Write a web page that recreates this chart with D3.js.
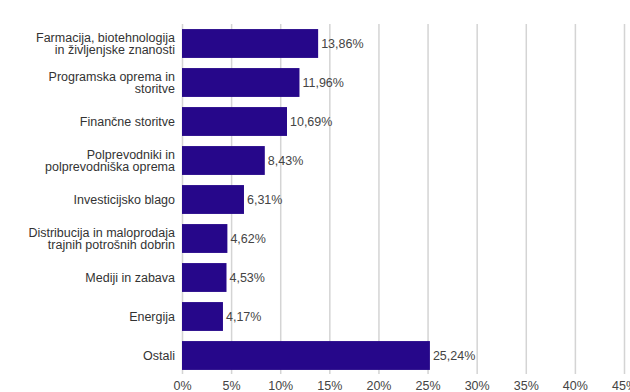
<!DOCTYPE html>
<html><head><meta charset="utf-8">
<script src="https://cdn.jsdelivr.net/npm/d3@7"></script>
<style>body{margin:0;background:#fff}svg{display:block;font-family:Arial,"Liberation Sans",sans-serif}</style>
</head><body>
<script>
const categories = [
  ["Farmacija, biotehnologija","in življenjske znanosti"],
  ["Programska oprema in","storitve"],
  ["Finančne storitve"],
  ["Polprevodniki in","polprevodniška oprema"],
  ["Investicijsko blago"],
  ["Distribucija in maloprodaja","trajnih potrošnih dobrin"],
  ["Mediji in zabava"],
  ["Energija"],
  ["Ostali"]
];
const values = [13.86, 11.96, 10.69, 8.43, 6.31, 4.62, 4.53, 4.17, 25.24];
const valueLabels = ["13,86%","11,96%","10,69%","8,43%","6,31%","4,62%","4,53%","4,17%","25,24%"];
const ticks = [0,5,10,15,20,25,30,35,40,45];

const W = 630, H = 392;
const FS = 12.5;
const svg = d3.select("body").append("svg").attr("width", W).attr("height", H);
const x = d3.scaleLinear().domain([0,45]).range([182,624]);
const y = d3.scaleBand().domain(d3.range(values.length)).range([24,375]).paddingInner(0.26).paddingOuter(0.13);

// grid
svg.append("g").selectAll("line").data(ticks).join("line")
  .attr("x1", d=>x(d)+0.5).attr("x2", d=>x(d)+0.5)
  .attr("y1", 24).attr("y2", 374)
  .attr("stroke", "#d4d4d4").attr("stroke-width", 1.5);

// axis
const axis = d3.axisBottom(x).tickValues(ticks).tickFormat(d=>d+"%").tickSize(0).tickPadding(5);
const ag = svg.append("g").attr("transform","translate(0,376)").call(axis);
ag.select(".domain").remove();
ag.selectAll("text").attr("font-size", FS).attr("fill", "#444").attr("font-family","Arial, 'Liberation Sans', sans-serif");

// bars
svg.append("g").selectAll("rect").data(values).join("rect")
  .attr("x", x(0)).attr("y", (d,i)=>y(i))
  .attr("width", d=>x(d)-x(0)).attr("height", y.bandwidth())
  .attr("fill", "#26078a");

// value labels
svg.append("g").selectAll("text").data(values).join("text")
  .attr("x", d=>x(d)+3).attr("y", (d,i)=>y(i)+y.bandwidth()/2)
  .attr("dy","0.35em").attr("font-size", FS).attr("fill", "#444")
  .text((d,i)=>valueLabels[i]);

// category labels
const cg = svg.append("g").selectAll("text").data(categories).join("text")
  .attr("x", 175).attr("y", (d,i)=>y(i)+y.bandwidth()/2)
  .attr("text-anchor","end").attr("font-size", FS).attr("fill", "#333");
cg.each(function(d){
  const t = d3.select(this);
  const n = d.length;
  d.forEach((line,j)=>{
    t.append("tspan").attr("x",175)
      .attr("dy", j===0 ? (0.35 - (n-1)*0.5)+"em" : "1em")
      .text(line);
  });
});
</script>
</body></html>
